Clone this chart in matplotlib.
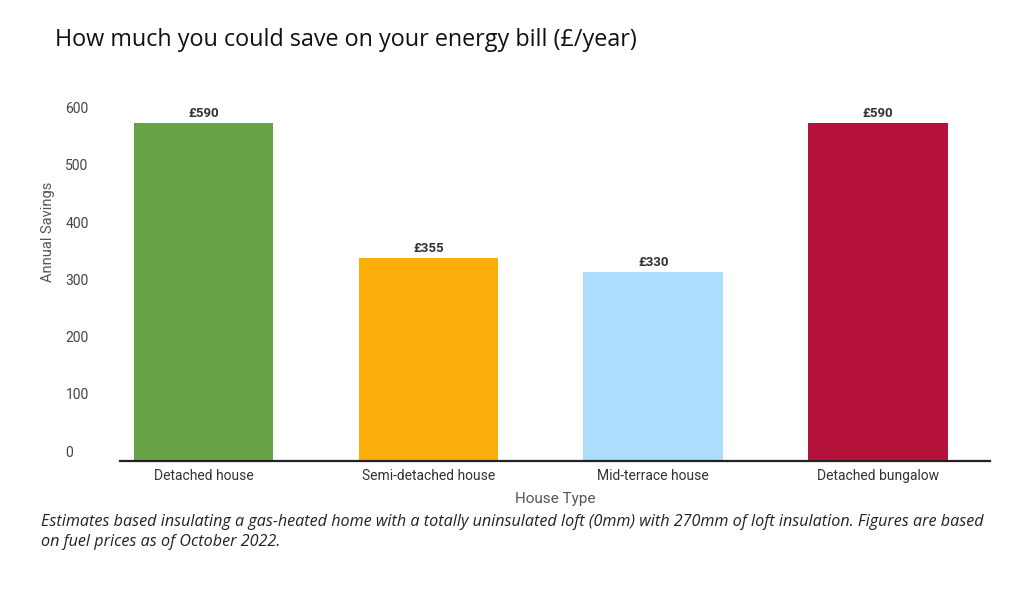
import matplotlib.pyplot as plt
import matplotlib.transforms as mtransforms

# chart data
house_types = ["Detached house", "Semi-detached house", "Mid-terrace house", "Detached bungalow"]
savings = [590, 355, 330, 590]
bar_labels = ["£590", "£355", "£330", "£590"]
bar_colors = ["#67A346", "#FBAE0A", "#ADDCFD", "#B5123B"]
y_ticks = [0, 100, 200, 300, 400, 500, 600]

fig = plt.figure(figsize=(10.19, 6.09), dpi=100)
ax = fig.add_axes([0.118, 0.243, 0.854, 0.583])

ax.bar(range(len(house_types)), savings, width=0.62, color=bar_colors, zorder=2)
for i, (v, lab) in enumerate(zip(savings, bar_labels)):
    ax.annotate(lab, (i, v), xytext=(0, 2), textcoords="offset points",
                ha="center", va="bottom", fontsize=9.5, fontweight="bold",
                color="#333333", family="Roboto")

ax.set_xlim(-0.37, 3.5)
ax.set_ylim(0, 620)
ax.set_xticks(range(len(house_types)))
ax.set_xticklabels(house_types, family="Roboto", fontsize=10, color="#333333")
ax.tick_params(axis="x", length=0, pad=6)
ax.set_yticks([])

# y tick labels sit just above their values
off = mtransforms.offset_copy(ax.get_yaxis_transform(), fig=fig, x=0, y=1, units="points")
for t in y_ticks:
    ax.text(-0.063, t, str(t), transform=off, ha="left", va="bottom",
            fontsize=10, color="#444444", family="Roboto")

for s in ["top", "right", "left"]:
    ax.spines[s].set_visible(False)
ax.spines["bottom"].set_linewidth(1.6)
ax.spines["bottom"].set_color("#222222")

ax.set_xlabel("House Type", family="Roboto", fontsize=11, color="#555555", labelpad=6)
fig.text(0.047, 0.62, "Annual Savings", rotation=90, ha="center", va="center",
         family="Roboto", fontsize=10.5, color="#555555")

fig.text(0.054, 0.935, "How much you could save on your energy bill (£/year)",
         family="Open Sans", fontsize=16.8, color="#111111", va="center")
fig.text(0.04, 0.126,
         "Estimates based insulating a gas-heated home with a totally uninsulated loft (0mm) with 270mm of loft insulation. Figures are based\n"
         "on fuel prices as of October 2022.",
         family="Open Sans", style="italic", fontsize=11.6, color="#222222",
         va="center", linespacing=1.3)

fig.savefig("out.png", dpi=100)
